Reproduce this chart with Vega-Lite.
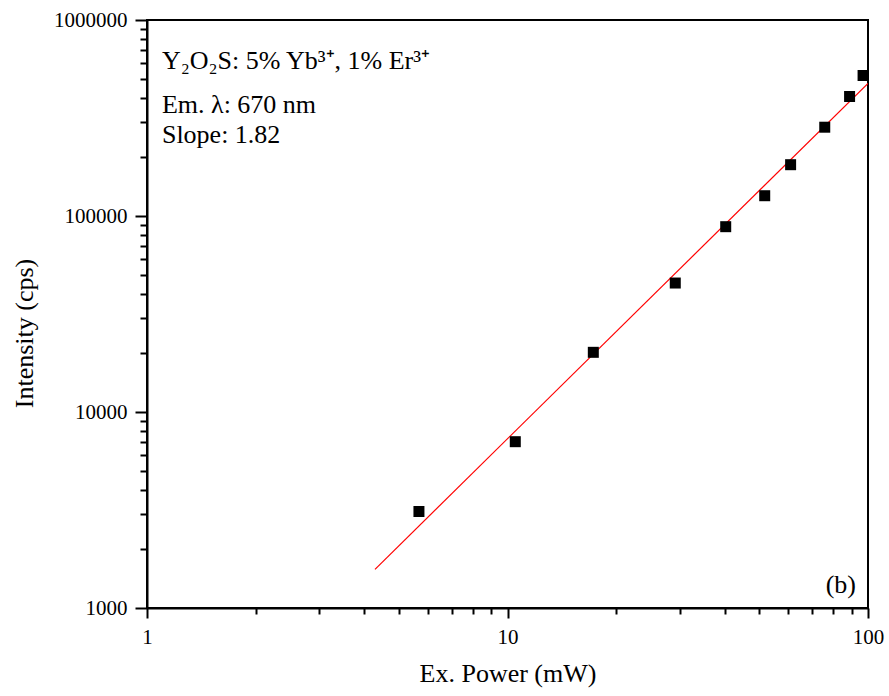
{
  "$schema": "https://vega.github.io/schema/vega-lite/v6.json",
  "width": 721,
  "height": 588,
  "autosize": "none",
  "padding": {"left": 147, "top": 20, "right": 21, "bottom": 88},
  "background": "white",
  "config": {
    "view": {"stroke": "black", "strokeWidth": 2},
    "font": "Liberation Serif"
  },
  "datasets": {
    "fit": [
      {"power": 4.29, "intensity": 1575},
      {"power": 100, "intensity": 475000}
    ],
    "points": [
      {"power": 5.68, "intensity": 3107},
      {"power": 10.51, "intensity": 7055},
      {"power": 17.3, "intensity": 20160},
      {"power": 29.2, "intensity": 45500},
      {"power": 40.3, "intensity": 88200},
      {"power": 51.7, "intensity": 126900},
      {"power": 61.0, "intensity": 182700},
      {"power": 75.86, "intensity": 283800},
      {"power": 88.9, "intensity": 407200},
      {"power": 96.9, "intensity": 521000}
    ],
    "notes": [
      {"power": 1.1, "intensity": 560000, "text": "Y₂O₂S: 5% Yb³⁺, 1% Er³⁺"},
      {"power": 1.1, "intensity": 335400, "text": "Em. λ: 670 nm"},
      {"power": 1.1, "intensity": 235000, "text": "Slope: 1.82"}
    ],
    "tag": [
      {"power": 92.6, "intensity": 1193, "text": "(b)"}
    ]
  },
  "resolve": {"axis": {"x": "independent", "y": "independent"}},
  "layer": [
    {
      "data": {"name": "fit"},
      "mark": {"type": "line", "color": "#ff0000", "strokeWidth": 1.2, "clip": true},
      "encoding": {
        "x": {
          "field": "power", "type": "quantitative",
          "scale": {"type": "log", "domain": [1, 100], "nice": false},
          "axis": {
            "orient": "bottom",
            "title": "Ex. Power (mW)",
            "values": [1, 10, 100],
            "labelExpr": "format(datum.value, 'd')",
            "grid": false,
            "domainColor": "black", "domainWidth": 2,
            "tickColor": "black", "tickWidth": 2, "tickSize": 10,
            "labelFont": "Liberation Serif", "labelFontSize": 21, "labelColor": "black",
            "labelPadding": 8, "labelFlush": false, "labelOverlap": false,
            "titleFont": "Liberation Serif", "titleFontSize": 26, "titleFontWeight": "normal", "titleColor": "black",
            "titlePadding": 13
          }
        },
        "y": {
          "field": "intensity", "type": "quantitative",
          "scale": {"type": "log", "domain": [1000, 1000000], "nice": false},
          "axis": {
            "orient": "left",
            "title": "Intensity (cps)",
            "values": [1000, 10000, 100000, 1000000],
            "labelExpr": "format(datum.value, 'd')",
            "grid": false,
            "domainColor": "black", "domainWidth": 2,
            "tickColor": "black", "tickWidth": 2, "tickSize": 12,
            "labelFont": "Liberation Serif", "labelFontSize": 21, "labelColor": "black",
            "labelPadding": 8, "labelFlush": false, "labelOverlap": false,
            "titleFont": "Liberation Serif", "titleFontSize": 26, "titleFontWeight": "normal", "titleColor": "black",
            "titlePadding": 16,
            "titleY": 313
          }
        }
      }
    },
    {
      "data": {"name": "points"},
      "mark": {"type": "point", "shape": "square", "filled": true, "color": "black", "size": 121, "opacity": 1},
      "encoding": {
        "x": {
          "field": "power", "type": "quantitative",
          "axis": {
            "orient": "bottom",
            "title": null,
            "values": [2,3,4,5,6,7,8,9,20,30,40,50,60,70,80,90],
            "labels": false, "domain": false, "grid": false,
            "tickColor": "black", "tickWidth": 2, "tickSize": 6
          }
        },
        "y": {
          "field": "intensity", "type": "quantitative",
          "axis": {
            "orient": "left",
            "title": null,
            "values": [2000,3000,4000,5000,6000,7000,8000,9000,20000,30000,40000,50000,60000,70000,80000,90000,200000,300000,400000,500000,600000,700000,800000,900000],
            "labels": false, "domain": false, "grid": false,
            "tickColor": "black", "tickWidth": 2, "tickSize": 7
          }
        }
      }
    },
    {
      "data": {"name": "notes"},
      "mark": {"type": "text", "align": "left", "baseline": "alphabetic", "font": "Liberation Serif", "fontSize": 26, "color": "black"},
      "encoding": {
        "x": {"field": "power", "type": "quantitative", "axis": null},
        "y": {"field": "intensity", "type": "quantitative", "axis": null},
        "text": {"field": "text"}
      }
    },
    {
      "data": {"name": "tag"},
      "mark": {"type": "text", "align": "right", "baseline": "alphabetic", "font": "Liberation Serif", "fontSize": 26, "color": "black"},
      "encoding": {
        "x": {"field": "power", "type": "quantitative", "axis": null},
        "y": {"field": "intensity", "type": "quantitative", "axis": null},
        "text": {"field": "text"}
      }
    }
  ]
}
